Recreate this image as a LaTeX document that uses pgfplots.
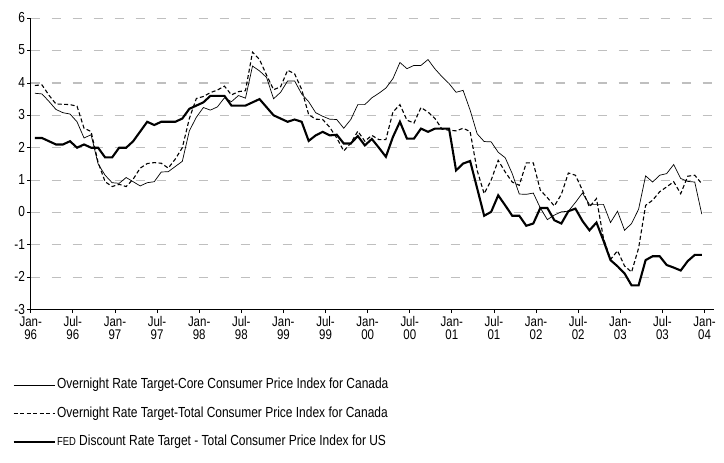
\documentclass[border=0pt]{standalone}
\usepackage{fontspec}
\setmainfont{Liberation Sans}[FakeStretch=0.82]
\usepackage{pgfplots}
\pgfplotsset{compat=1.18}
\usepackage{pgfplotstable}

\pgfplotstableread{
k core total us
0 3.68 3.92 2.30
1 3.66 3.94 2.30
2 3.43 3.62 2.20
3 3.18 3.35 2.10
4 3.08 3.34 2.10
5 3.04 3.33 2.20
6 2.80 3.28 2.00
7 2.30 2.60 2.10
8 2.40 2.50 2.00
9 1.50 1.55 2.00
10 1.15 0.95 1.70
11 0.92 0.80 1.70
12 0.90 0.87 2.00
13 1.08 0.80 2.00
14 0.95 1.03 2.20
15 0.82 1.37 2.50
16 0.92 1.51 2.80
17 0.95 1.54 2.70
18 1.25 1.52 2.80
19 1.26 1.37 2.80
20 1.42 1.65 2.80
21 1.58 2.00 2.90
22 2.52 2.90 3.20
23 2.94 3.52 3.30
24 3.24 3.58 3.40
25 3.16 3.70 3.60
26 3.26 3.78 3.60
27 3.54 3.90 3.60
28 3.42 3.63 3.30
29 3.61 3.73 3.30
30 3.53 3.76 3.30
31 4.52 4.95 3.40
32 4.37 4.72 3.50
33 4.17 4.24 3.25
34 3.51 3.79 3.00
35 3.71 3.88 2.90
36 4.06 4.39 2.80
37 4.06 4.28 2.87
38 3.66 3.80 2.80
39 3.42 3.02 2.21
40 3.08 2.88 2.38
41 2.97 2.87 2.49
42 2.88 2.63 2.38
43 2.87 2.30 2.40
44 2.60 1.90 2.13
45 2.87 2.14 2.13
46 3.33 2.51 2.36
47 3.33 2.20 2.07
48 3.54 2.38 2.27
49 3.68 2.25 2.00
50 3.84 2.25 1.72
51 4.13 3.10 2.33
52 4.63 3.33 2.80
53 4.44 2.85 2.28
54 4.54 2.76 2.28
55 4.54 3.24 2.59
56 4.72 3.10 2.49
57 4.43 2.90 2.59
58 4.19 2.57 2.59
59 3.98 2.54 2.59
60 3.71 2.52 1.30
61 3.77 2.60 1.51
62 3.16 2.50 1.59
63 2.43 1.30 0.75
64 2.19 0.58 -0.10
65 2.18 1.00 0.02
66 1.86 1.61 0.53
67 1.69 1.25 0.22
68 1.20 0.94 -0.10
69 0.57 0.84 -0.10
70 0.56 1.53 -0.41
71 0.60 1.53 -0.34
72 0.14 0.69 0.14
73 -0.22 0.46 0.14
74 -0.08 0.20 -0.24
75 0.02 0.56 -0.34
76 0.04 1.22 0.04
77 0.31 1.15 0.12
78 0.60 0.69 -0.26
79 0.25 0.17 -0.55
80 0.25 0.43 -0.31
81 0.25 -0.80 -0.87
82 -0.31 -1.45 -1.47
83 0.04 -1.18 -1.66
84 -0.55 -1.65 -1.88
85 -0.34 -1.84 -2.25
86 0.10 -1.10 -2.25
87 1.13 0.22 -1.47
88 0.94 0.38 -1.35
89 1.15 0.64 -1.35
90 1.20 0.79 -1.62
91 1.48 0.95 -1.70
92 1.05 0.58 -1.79
93 0.96 1.12 -1.50
94 0.94 1.15 -1.31
95 -0.05 0.89 -1.31
}\datatable

\begin{document}
\begin{tikzpicture}
\useasboundingbox (0,0) rectangle (724pt,463pt);
\begin{axis}[
  at={(30.7pt,153.3pt)}, anchor=south west,
  scale only axis, width=683pt, height=291.6pt,
  xmin=0, xmax=97.3, ymin=-3, ymax=6,
  axis x line*=bottom, axis y line*=left,
  axis line style={-, black, line width=1.4pt},
  ytick={-3,-2,...,6},
  xtick={0,6,...,96},
  xticklabels={{Jan-\\96},{Jul-\\96},{Jan-\\97},{Jul-\\97},{Jan-\\98},{Jul-\\98},{Jan-\\99},{Jul-\\99},{Jan-\\00},{Jul-\\00},{Jan-\\01},{Jul-\\01},{Jan-\\02},{Jul-\\02},{Jan-\\03},{Jul-\\03},{Jan-\\04}},
  xticklabel style={align=center, font=\fontsize{14}{13}\selectfont, inner sep=1pt, yshift=-2pt},
  yticklabel style={font=\fontsize{14.5}{14}\selectfont, inner sep=2pt, yshift=0.5pt},
  /pgf/number format/assume math mode=true,
  tick align=outside,
  x tick style={black, line width=0.8pt},
  y tick style={black, line width=0.8pt},
  major tick length=3.5pt,
  ymajorgrids,
  grid style={color=black!25, line width=1.2pt, dash pattern=on 9pt off 12pt},
  legend style={at={(-0.027,-0.229)}, anchor=north west, draw=none, fill=none,
    font=\fontsize{14.6}{14}\selectfont, row sep=11.5pt, inner sep=0pt,
    nodes={text height=10pt, text depth=3pt, inner xsep=1.5pt}},
  legend cell align=left,
  legend image code/.code={\draw[#1] (0pt,0pt) -- (41pt,0pt);},
]
\addplot[black, line width=0.7pt] table[x expr=\thisrow{k}+0.6, y=core] {\datatable};
\addlegendentry{Overnight Rate Target-Core Consumer Price Index for Canada}
\addplot[black, line width=1.1pt, dash pattern=on 4pt off 2.5pt] table[x expr=\thisrow{k}+0.6, y=total] {\datatable};
\addlegendentry{Overnight Rate Target-Total Consumer Price Index for Canada}
\addplot[black, line width=2.1pt] table[x expr=\thisrow{k}+0.6, y=us] {\datatable};
\addlegendentry{{\fontsize{11.5}{12}\selectfont FED} Discount Rate Target - Total Consumer Price Index for US}
\end{axis}
\end{tikzpicture}
\end{document}
